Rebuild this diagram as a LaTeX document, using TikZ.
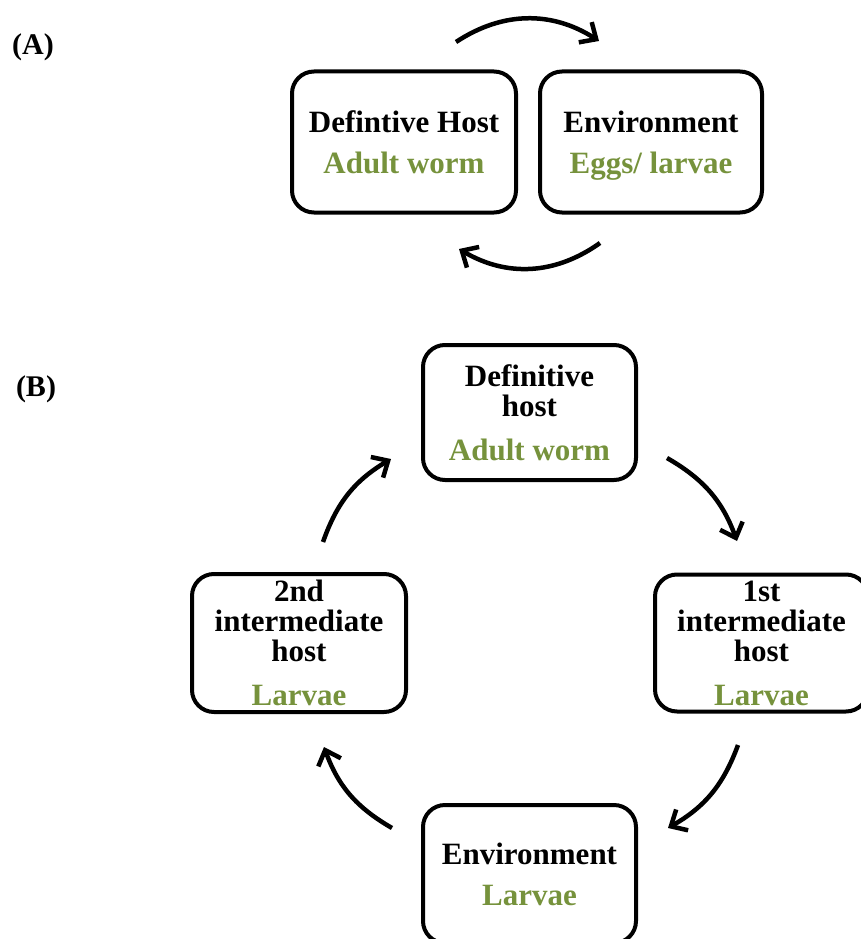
\documentclass[tikz,border=0pt]{standalone}
\usepackage{fontspec}
\setmainfont{Liberation Serif}
\usetikzlibrary{arrows.meta}
\definecolor{stagegreen}{HTML}{76923C}

\begin{document}
\begin{tikzpicture}[x=1pt, y=-1pt, >={Straight Barb[length=13pt,width=24pt]},
  stage/.style={draw, line width=4pt, rounded corners=22pt, align=center,
    inner sep=0pt, font=\bfseries\fontsize{31}{30}\selectfont},
  panel/.style={font=\bfseries\fontsize{30}{30}\selectfont},
  cyc/.style={->, line width=4.5pt}]
  \useasboundingbox (0,0) rectangle (861,939);
  \clip (0,0) rectangle (861,939);

  % Panel labels
  \node[panel] (labA) at (33,47) {(A)};
  \node[panel] (labB) at (36,389) {(B)};

  % (A) direct life cycle
  \node[stage, minimum width=224pt, minimum height=141pt] (hostA) at (404,142)
    {Defintive Host\\[11pt]\textcolor{stagegreen}{Adult worm}};
  \node[stage, minimum width=222pt, minimum height=141pt] (envA) at (651,142)
    {Environment\\[11pt]\textcolor{stagegreen}{\smash{Eggs/ larvae}}};

  \coordinate (topS) at (456,42);
  \coordinate (topE) at (599,41);
  \coordinate (botS) at (600,243);
  \coordinate (botE) at (459,249);
  \draw[cyc] (topS) to[bend left=33] (topE);
  \draw[cyc] (botS) to[bend left=33] (botE);

  % (B) indirect life cycle
  \node[stage, minimum width=213pt, minimum height=135pt] (defB) at (529.5,412.5)
    {Definitive\\host\\[14pt]\textcolor{stagegreen}{Adult worm}};
  \node[stage, minimum width=213pt, minimum height=137pt] (firstB) at (761.5,643)
    {1st\\intermediate\\host\\[14pt]\textcolor{stagegreen}{Larvae}};
  \node[stage, minimum width=214pt, minimum height=138pt] (secondB) at (299,643)
    {2nd\\intermediate\\host\\[14pt]\textcolor{stagegreen}{Larvae}};
  \node[stage, minimum width=213pt, minimum height=138pt] (envB) at (529.5,874)
    {Environment\\[11pt]\textcolor{stagegreen}{Larvae}};

  \coordinate (c1S) at (667,458);
  \coordinate (c1E) at (737,541);
  \coordinate (c2S) at (738,745);
  \coordinate (c2E) at (668,828);
  \coordinate (c3S) at (392,828);
  \coordinate (c3E) at (324,747);
  \coordinate (c4S) at (323,542);
  \coordinate (c4E) at (391,459);
  \draw[cyc] (c1S) to[bend left=20] (c1E);
  \draw[cyc] (c2S) to[bend left=20] (c2E);
  \draw[cyc] (c3S) to[bend left=20] (c3E);
  \draw[cyc] (c4S) to[bend left=20] (c4E);
\end{tikzpicture}
\end{document}
